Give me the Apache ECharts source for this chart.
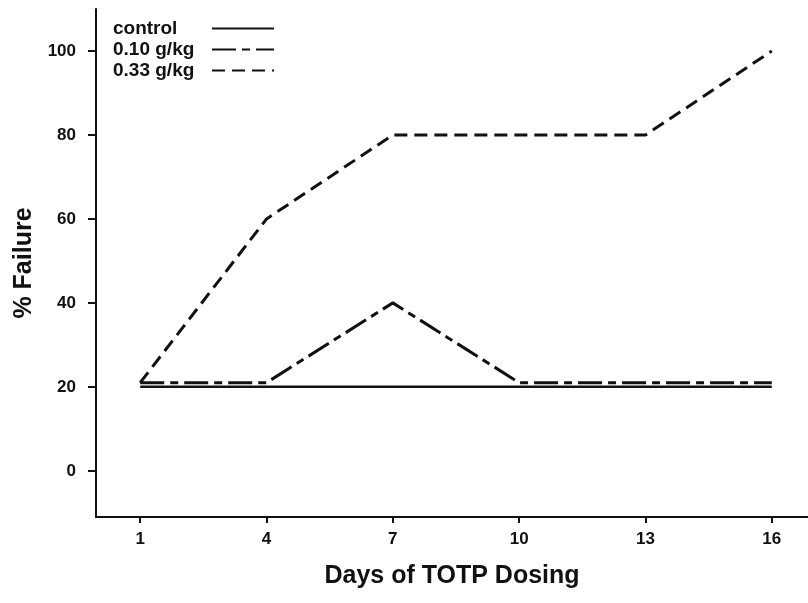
<!DOCTYPE html>
<html>
<head>
<meta charset="utf-8">
<script src="https://cdn.jsdelivr.net/npm/echarts@6/dist/echarts.min.js"></script>
<style>
html,body{margin:0;padding:0;background:#fff;}
#chart{width:808px;height:603px;}
</style>
</head>
<body>
<div id="chart"></div>
<script>
const days = [1, 4, 7, 10, 13, 16];
const xTicks = [1, 4, 7, 10, 13, 16];
const yTicks = [0, 20, 40, 60, 80, 100];
const controlVals = [20, 20, 20, 20, 20, 20];
const low010Vals = [21, 21, 40, 21, 21, 21];
const high033Vals = [21, 60, 80, 80, 80, 100];
const seriesNames = ['control', '0.10 g/kg', '0.33 g/kg'];

const font = 'Liberation Sans, Arial, Helvetica, sans-serif';
const ink = '#111';
const chart = echarts.init(document.getElementById('chart'), null, {renderer: 'canvas'});

function mk(name, vals, width, type) {
  return {
    name: name, type: 'line', symbol: 'none',
    data: days.map((d, i) => [d, vals[i]]),
    lineStyle: {color: ink, width: width, type: type},
    itemStyle: {color: ink},
    animation: false
  };
}

chart.setOption({
  backgroundColor: '#fff',
  animation: false,
  grid: {left: 96, right: 0, top: 9, bottom: 86, containLabel: false},
  legend: {
    orient: 'vertical', left: 113, top: 19, align: 'right', padding: 0,
    itemWidth: 62, itemHeight: 14, itemGap: 2,
    data: seriesNames,
    itemStyle: {opacity: 0},
    formatter: n => '{t|' + n + '}',
    textStyle: {
      fontFamily: font, fontWeight: 'bold', fontSize: 19, color: ink,
      rich: {t: {width: 94, align: 'left', lineHeight: 21, fontFamily: font, fontWeight: 'bold', fontSize: 19, color: ink}}
    }
  },
  xAxis: {
    type: 'value', min: -0.05, max: 16.86,
    name: 'Days of TOTP Dosing', nameLocation: 'middle', nameGap: 47,
    nameTextStyle: {fontFamily: font, fontWeight: 'bold', fontSize: 25, color: ink},
    axisLine: {show: true, onZero: false, lineStyle: {color: ink, width: 2}},
    axisTick: {show: true, customValues: xTicks, length: 6, lineStyle: {color: ink, width: 2}},
    axisLabel: {customValues: xTicks, margin: 14, fontFamily: font, fontWeight: 'bold', fontSize: 17, color: ink},
    splitLine: {show: false}
  },
  yAxis: {
    type: 'value', min: -11, max: 110,
    name: '% Failure', nameLocation: 'middle', nameGap: 58, nameRotate: 90,
    nameTextStyle: {fontFamily: font, fontWeight: 'bold', fontSize: 25, color: ink},
    axisLine: {show: true, onZero: false, lineStyle: {color: ink, width: 2}},
    axisTick: {show: true, customValues: yTicks, length: 8, lineStyle: {color: ink, width: 2}},
    axisLabel: {customValues: yTicks, margin: 20, fontFamily: font, fontWeight: 'bold', fontSize: 17, color: ink},
    splitLine: {show: false}
  },
  series: [
    mk(seriesNames[0], controlVals, 2.5, 'solid'),
    mk(seriesNames[1], low010Vals, 3, [24, 6, 8, 6]),
    mk(seriesNames[2], high033Vals, 3, [13, 7])
  ]
});
</script>
</body>
</html>
